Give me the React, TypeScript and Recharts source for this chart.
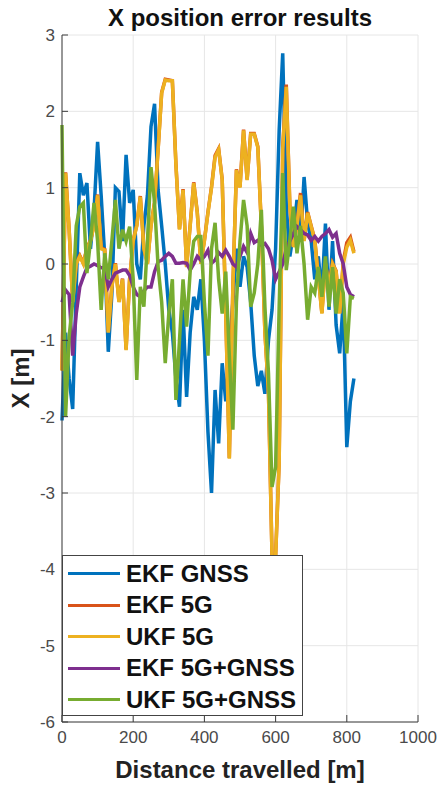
import { LineChart, Line, XAxis, YAxis, CartesianGrid, Legend } from "recharts"

// distance travelled [m]
const distance = [
  0, 10, 20, 30, 40, 50, 60, 70, 80, 90, 100, 110, 120, 130, 140, 150, 160, 170, 180, 190,
  200, 210, 220, 230, 240, 250, 260, 270, 280, 290, 300, 310, 320, 330, 340, 350, 360, 370, 380, 390,
  400, 410, 420, 430, 440, 450, 460, 470, 480, 490, 500, 510, 520, 530, 540, 550, 560, 570, 580, 590,
  600, 610, 620, 630, 640, 650, 660, 670, 680, 690, 700, 710, 720, 730, 740, 750, 760, 770, 780, 790,
  800, 810, 820,
]

const ekfGnss = [
  -2.05, -0.9, -1.5, -1.9, -0.3, 1.19, 0.9, 1.06, 0.2, 0.7, 1.6, 0.9, 0.1, -1.15, -0.4, 1.0, 0.95, 0.3, 1.43, 0.8,
  0.97, 0.0, -0.2, 0.5, 0.9, 1.8, 2.1, 0.97, 0.5, 0.0, -0.6, -0.9, -1.5, -1.87, -0.6, -1.74, -0.9, -0.43, -0.6, -0.2,
  -1.0, -2.2, -3.0, -1.65, -2.35, -1.3, -1.8, -1.1, -0.5, 0.2, -0.3, 0.1, -0.04, -0.5, -1.2, -1.6, -1.4, -1.7, -1.0, -0.6,
  0.2, 1.75, 2.76, 0.75, 0.1, 0.4, 0.84, 0.3, 1.14, 0.54, 0.3, -0.2, 0.1, -0.4, 0.53, -0.6, 0.3, -0.8, -1.17, -0.5,
  -2.4, -1.8, -1.5,
]

const ekf5g = [
  -1.39, 1.2, 0.46, -0.49, 0.01, 0.11, 0.01, 0.21, 0.31, 0.51, 0.91, 0.21, 0.19, -0.89, -0.29, 0.01, -0.49, -0.19, -1.12, -0.19,
  0.31, 0.51, 0.89, 0.21, 0.01, 0.51, 0.81, 1.51, 2.25, 2.42, 2.41, 2.4, 1.31, 0.46, 0.98, -0.03, 0.51, 1.07, 0.68, 0.01,
  0.31, 0.68, 1.01, 1.42, 1.51, 1.11, -0.64, -2.54, -0.29, 1.24, 1.01, 1.76, 1.11, 1.71, 1.71, 1.54, 0.5, -0.89, -1.68, -3.83,
  -3.83, -2.59, 1.53, 2.35, 0.76, 0.23, 0.51, 0.93, 0.31, 0.68, 0.5, 0.32, -0.16, -0.64, 0.01, -0.29, 0.01, -0.09, -0.64, 0.03,
  0.28, 0.35, 0.16,
]

const ukf5g = [
  -1.4, 1.19, 0.45, -0.5, 0.0, 0.1, 0.0, 0.2, 0.3, 0.5, 0.9, 0.2, 0.18, -0.9, -0.3, 0.0, -0.5, -0.2, -1.13, -0.2,
  0.3, 0.5, 0.88, 0.2, 0.0, 0.5, 0.8, 1.5, 2.24, 2.41, 2.4, 2.4, 1.3, 0.45, 0.97, -0.04, 0.5, 1.06, 0.67, 0.0,
  0.3, 0.67, 1.0, 1.4, 1.5, 1.1, -0.65, -2.55, -0.3, 1.23, 1.0, 1.75, 1.1, 1.7, 1.7, 1.53, 0.49, -0.9, -1.69, -3.84,
  -3.84, -2.6, 1.5, 2.32, 0.75, 0.22, 0.5, 0.9, 0.3, 0.67, 0.49, 0.31, -0.17, -0.65, 0.0, -0.3, 0.0, -0.1, -0.65, 0.0,
  0.22, 0.31, 0.14,
]

const ekfFused = [
  -0.5, -0.34, -0.4, -1.2, -0.65, -0.3, -0.17, -0.05, -0.03, 0.0, -0.02, -0.05, -0.05, -0.3, -0.2, -0.12, -0.1, -0.08, -0.08, -0.15,
  -0.3, -0.4, -0.43, -0.35, -0.3, -0.3, -0.1, 0.03, 0.05, 0.1, 0.14, 0.1, 0.01, 0.01, 0.02, 0.01, -0.08, 0.0, 0.1, 0.05,
  0.1, 0.18, 0.01, 0.05, 0.15, 0.1, 0.18, 0.1, 0.0, -0.04, 0.1, 0.23, 0.15, 0.4, 0.28, 0.31, 0.25, 0.27, 0.2, 0.05,
  -0.2, -0.1, 0.0, 0.2, 0.3, 0.4, 0.49, 0.45, 0.4, 0.38, 0.31, 0.36, 0.3, 0.36, 0.4, 0.45, 0.35, 0.4, 0.14, 0.0,
  -0.3, -0.4, -0.43,
]

const ukfFused = [
  1.82, -2.0, -0.95, -0.5, 0.5, 0.75, 0.8, -0.12, 0.3, 0.8, 0.3, -0.6, 0.14, -0.2, 0.3, 0.84, 0.2, 0.45, 0.3, 0.49,
  -0.2, -1.52, -0.3, -0.56, 0.3, 1.27, 0.8, -0.04, -0.5, -1.3, -0.65, -0.2, -1.78, -1.0, -0.2, -0.82, -0.1, 0.3, 0.36, 0.36,
  -0.5, -1.2, 0.2, 0.54, -0.2, -0.65, -0.1, -1.2, -2.17, -0.5, 0.3, 0.84, 0.5, -0.56, -0.38, 0.0, 0.71, -0.56, -1.43, -2.92,
  -2.66, -0.56, 1.19, -0.08, 0.31, 0.75, 0.14, 0.5, 0.0, -0.73, -0.3, -0.38, -0.04, -0.43, 0.1, -0.56, -0.04, -0.65, -0.2, -0.38,
  -1.17, -0.43, -0.45,
]

const xTicks = [0, 200, 400, 600, 800, 1000]
const yTicks = [-6, -5, -4, -3, -2, -1, 0, 1, 2, 3]

const seriesNames = ["EKF GNSS", "EKF 5G", "UKF 5G", "EKF 5G+GNSS", "UKF 5G+GNSS"]

const rows = distance.map((d, i) => ({
  d,
  ekfGnss: ekfGnss[i],
  ekf5g: ekf5g[i],
  ukf5g: ukf5g[i],
  ekfFused: ekfFused[i],
  ukfFused: ukfFused[i],
}))

const FONT = '"Liberation Sans", Arial, Helvetica, sans-serif'
const tickStyle = { fontSize: 17, fill: "#4a4a4a", fontFamily: FONT }

function LegendBox({ payload }: { payload?: { value: string; color: string }[] }) {
  const items = seriesNames.map((n) => payload?.find((p) => p.value === n)).filter(Boolean) as {
    value: string
    color: string
  }[]
  return (
    <div
      style={{
        boxSizing: "border-box",
        width: 241,
        height: 161,
        border: "1px solid #444",
        background: "#fff",
        paddingTop: 2,
      }}
    >
      {items.map((p) => (
        <div key={p.value} style={{ display: "flex", alignItems: "center", height: 31.5 }}>
          <span style={{ display: "inline-block", marginLeft: 5, width: 52, height: 3, background: p.color }} />
          <span
            style={{
              marginLeft: 6,
              fontFamily: FONT,
              fontWeight: 700,
              fontSize: 24,
              color: "#111",
              lineHeight: 1,
            }}
          >
            {p.value}
          </span>
        </div>
      ))}
    </div>
  )
}

export default function App() {
  return (
    <div style={{ position: "absolute", left: 0, top: 0, width: 440, height: 788, background: "#fff" }}>
      <div
        style={{
          position: "absolute",
          left: 40,
          top: 6,
          width: 400,
          textAlign: "center",
          fontFamily: FONT,
          fontWeight: 700,
          fontSize: 24,
          lineHeight: "24px",
          color: "#111",
          zIndex: 2,
        }}
      >
        X position error results
      </div>
      <LineChart
        width={440}
        height={788}
        data={rows}
        margin={{ top: 35, right: 22, bottom: 0, left: 0 }}
        style={{ fontFamily: FONT }}
      >
        <CartesianGrid stroke="#e6e6e6" />
        <XAxis
          dataKey="d"
          type="number"
          domain={[0, 1000]}
          ticks={xTicks}
          height={66}
          tick={tickStyle}
          tickSize={-7}
          tickMargin={16}
          axisLine={{ stroke: "#3c3c3c" }}
          tickLine={{ stroke: "#3c3c3c" }}
          label={{
            value: "Distance travelled [m]",
            position: "insideBottom",
            offset: 10,
            style: { fontSize: 24, fontWeight: 700, fill: "#222", fontFamily: FONT },
          }}
        />
        <YAxis
          type="number"
          domain={[-6, 3]}
          ticks={yTicks}
          width={62}
          tick={tickStyle}
          tickSize={-6}
          tickMargin={13}
          axisLine={{ stroke: "#3c3c3c" }}
          tickLine={{ stroke: "#3c3c3c" }}
          label={{
            value: "X [m]",
            angle: -90,
            position: "insideLeft",
            offset: 20,
            style: { textAnchor: "middle", fontSize: 24, fontWeight: 700, fill: "#222", fontFamily: FONT },
          }}
        />
        <Line name="EKF GNSS" dataKey="ekfGnss" stroke="#0072BD" strokeWidth={3.5} dot={false} isAnimationActive={false} />
        <Line name="EKF 5G" dataKey="ekf5g" stroke="#D95319" strokeWidth={3.5} dot={false} isAnimationActive={false} />
        <Line name="UKF 5G" dataKey="ukf5g" stroke="#EDB120" strokeWidth={3.5} dot={false} isAnimationActive={false} />
        <Line name="EKF 5G+GNSS" dataKey="ekfFused" stroke="#7E2F8E" strokeWidth={3.5} dot={false} isAnimationActive={false} />
        <Line name="UKF 5G+GNSS" dataKey="ukfFused" stroke="#77AC30" strokeWidth={3.5} dot={false} isAnimationActive={false} />
        <Legend
          layout="vertical"
          align="center"
          verticalAlign="middle"
          content={<LegendBox />}
          wrapperStyle={{ position: "absolute", left: 62, top: 555, width: 241, height: 161 }}
        />
      </LineChart>
    </div>
  )
}
